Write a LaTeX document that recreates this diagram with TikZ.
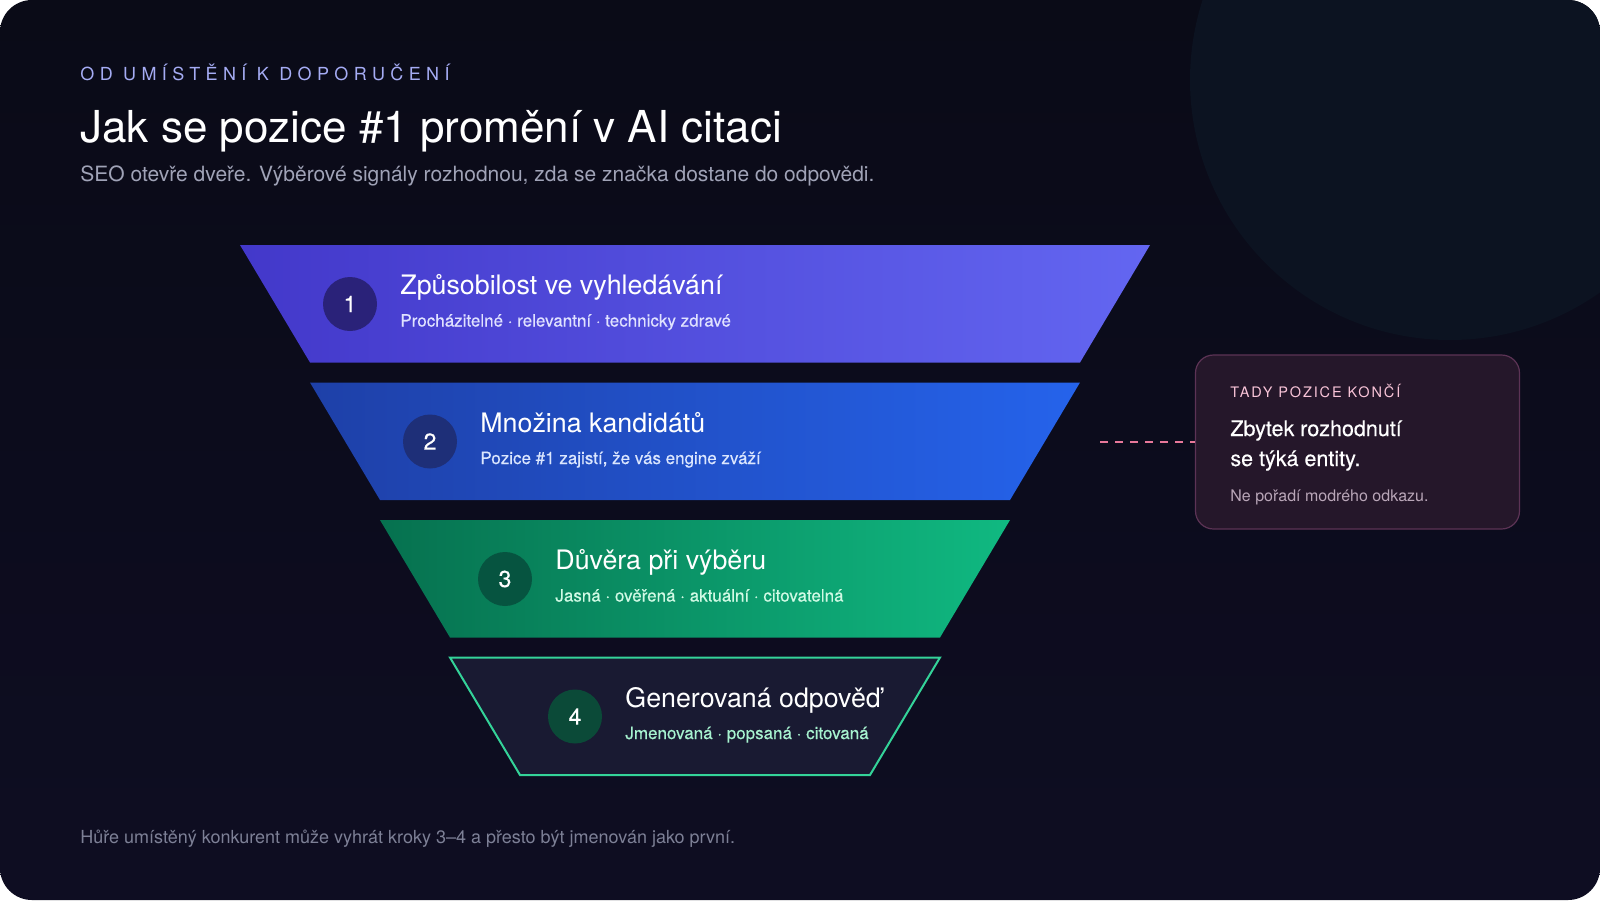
\documentclass[tikz,border=0pt]{standalone}
\usepackage{fontspec}
\setmainfont{TeX Gyre Heros}
\newfontfamily\kickerfont[LetterSpace=30]{TeX Gyre Heros}
\newfontfamily\notekickerfont[LetterSpace=13]{TeX Gyre Heros}
\newfontfamily\medfont[FakeBold=0.35]{TeX Gyre Heros}

\definecolor{bgtop}{HTML}{0A0B17}
\definecolor{bgbot}{HTML}{0E0D22}
\definecolor{glow}{HTML}{0C1321}
\definecolor{kicker}{HTML}{A5ACF4}
\definecolor{subgrey}{HTML}{A0A3B7}
\definecolor{footgrey}{HTML}{7D8096}
\definecolor{lay1a}{HTML}{4338CA}
\definecolor{lay1b}{HTML}{6366F1}
\definecolor{lay2a}{HTML}{1E40A8}
\definecolor{lay2b}{HTML}{2563EB}
\definecolor{lay3a}{HTML}{06714F}
\definecolor{lay3b}{HTML}{10B981}
\definecolor{lay4bg}{HTML}{191A32}
\definecolor{lay4line}{HTML}{34D399}
\definecolor{num1}{HTML}{2A2279}
\definecolor{num2}{HTML}{1E2F78}
\definecolor{num3}{HTML}{065440}
\definecolor{num4}{HTML}{0B4A38}
\definecolor{sub1}{HTML}{E0E2FF}
\definecolor{sub2}{HTML}{DBE6FE}
\definecolor{sub3}{HTML}{D1FAE5}
\definecolor{sub4}{HTML}{A7F3D0}
\definecolor{notebg}{HTML}{25172A}
\definecolor{noteline}{HTML}{5C3355}
\definecolor{notepink}{HTML}{F9C4D8}
\definecolor{notegrey}{HTML}{B9A6B8}
\definecolor{dashpink}{HTML}{E8789A}

\begin{document}
\begin{tikzpicture}[x=0.5pt, y=-0.5pt,
  stepnum/.style={circle, minimum size=27pt, inner sep=0pt, text=white, font=\medfont\fontsize{11.5}{13}\selectfont},
  steptitle/.style={anchor=base west, inner sep=0pt, text=white, font=\fontsize{13.4}{16}\selectfont},
  stepsub/.style={anchor=base west, inner sep=0pt, font=\medfont\fontsize{8.5}{10}\selectfont},
  plain/.style={anchor=base west, inner sep=0pt},
  notebox/.style={draw=noteline, fill=notebg, rounded corners=9pt, line width=0.6pt,
    minimum width=162pt, minimum height=87pt, inner sep=0pt},
  notedash/.style={draw=dashpink, line width=1.4pt, dash pattern=on 4pt off 3.5pt}]

\useasboundingbox (0,0) rectangle (1600,900);
\fill[white] (0,0) rectangle (1600,900);
\begin{scope}
\clip[rounded corners=16pt] (0,0) rectangle (1600,900);
\shade[top color=bgtop, bottom color=bgbot] (0,0) rectangle (1600,900);
\fill[glow] (1450,80) circle [radius=260];
\end{scope}

% heading
\node[plain, text=kicker, font=\kickerfont\fontsize{9}{10}\selectfont] (kicker) at (80,80) {OD UMÍSTĚNÍ K DOPORUČENÍ};
\node[plain, text=white, font=\fontsize{22}{26}\selectfont] (title) at (80,142) {Jak se pozice \#1 promění v AI citaci};
\node[plain, text=subgrey, font=\fontsize{10.5}{12}\selectfont] (subtitle) at (80,181.5) {SEO otevře dveře. Výběrové signály rozhodnou, zda se značka dostane do odpovědi.};

% funnel
\foreach \i/\cl/\cr in {1/lay1a/lay1b, 2/lay2a/lay2b, 3/lay3a/lay3b} {
  \pgfmathsetmacro\yt{245+137.5*(\i-1)}
  \pgfmathsetmacro\yb{\yt+117.5}
  \pgfmathsetmacro\wt{455-70*(\i-1)}
  \pgfmathsetmacro\wb{\wt-70}
  \shade[left color=\cl, right color=\cr] (695-\wt,\yt) -- (695+\wt,\yt) -- (695+\wb,\yb) -- (695-\wb,\yb) -- cycle;
}
\filldraw[fill=lay4bg, draw=lay4line, line width=1pt] (450,657.5) -- (940,657.5) -- (870,775) -- (520,775) -- cycle;

\node[stepnum, fill=num1] (n1) at (350,304) {1};
\node[steptitle] (t1) at (400,294.5) {Způsobilost ve vyhledávání};
\node[stepsub, text=sub1] (s1) at (400,326.5) {Procházitelné · relevantní · technicky zdravé};

\node[stepnum, fill=num2] (n2) at (430,441.5) {2};
\node[steptitle] (t2) at (480,432) {Množina kandidátů};
\node[stepsub, text=sub2] (s2) at (480,464) {Pozice \#1 zajistí, že vás engine zváží};

\node[stepnum, fill=num3] (n3) at (505,579) {3};
\node[steptitle] (t3) at (555,569.5) {Důvěra při výběru};
\node[stepsub, text=sub3] (s3) at (555,601.5) {Jasná · ověřená · aktuální · citovatelná};

\node[stepnum, fill=num4] (n4) at (575,716.5) {4};
\node[steptitle] (t4) at (625,707) {Generovaná odpověď};
\node[stepsub, text=sub4] (s4) at (625,739) {Jmenovaná · popsaná · citovaná};

% side note
\node[notebox] (note) at (1357.5,442) {};
\node[plain, text=notepink, font=\notekickerfont\fontsize{7.25}{9}\selectfont] (notehead) at (1230,397.5) {TADY POZICE KONČÍ};
\node[plain, text=white, font=\medfont\fontsize{10.75}{13}\selectfont] (notemain1) at (1230,436) {Zbytek rozhodnutí};
\node[plain, text=white, font=\medfont\fontsize{10.75}{13}\selectfont] (notemain2) at (1230,466) {se týká entity.};
\node[plain, text=notegrey, font=\fontsize{8}{10}\selectfont] (notefoot) at (1230,501) {Ne pořadí modrého odkazu.};
\coordinate (dashstart) at (1100,442);
\draw[notedash] (dashstart) -- (note.west);

\node[plain, text=footgrey, font=\fontsize{9}{10}\selectfont] (footer) at (80,843) {Hůře umístěný konkurent může vyhrát kroky 3–4 a přesto být jmenován jako první.};

\end{tikzpicture}
\end{document}
